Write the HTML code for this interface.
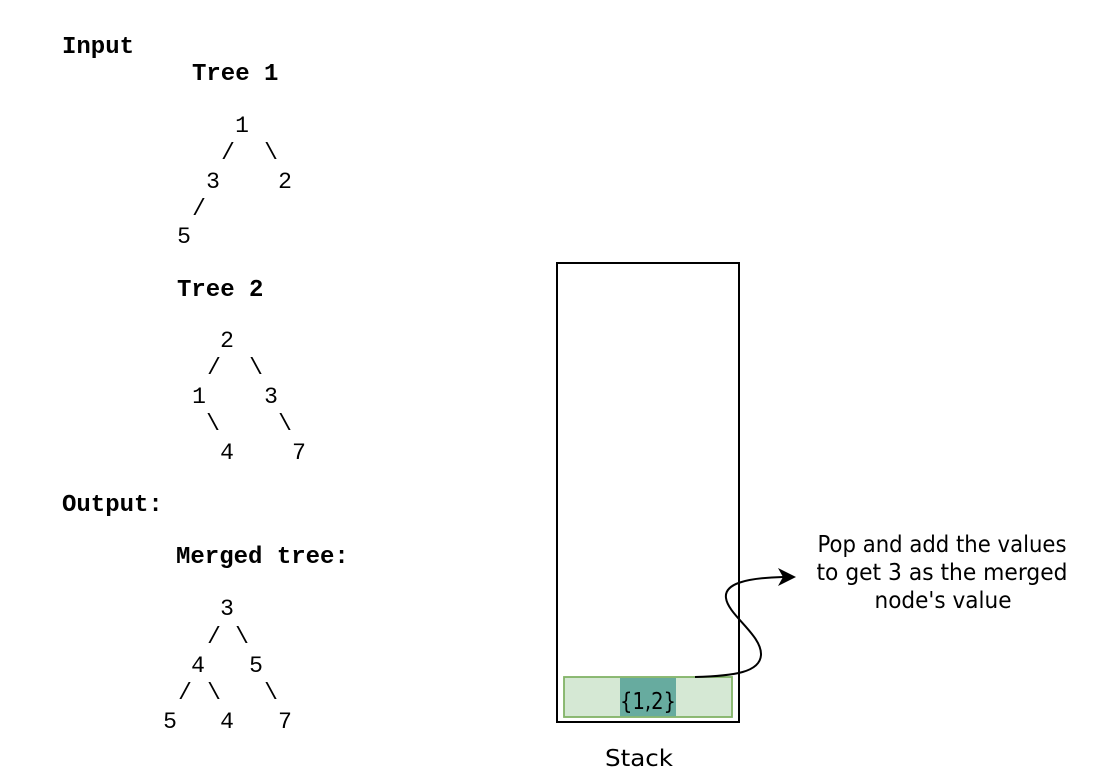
<!DOCTYPE html>
<html>
<head>
<meta charset="utf-8">
<style>
  html, body { margin:0; padding:0; background:#ffffff; }
  body { width:1120px; height:784px; overflow:hidden; }
  svg { display:block; }
  .hd { font-family:"Liberation Mono", monospace; font-weight:bold; font-size:24px; fill:#000; }
  .dg { font-family:"Liberation Mono", monospace; font-size:23px; fill:#000; }
  .cm { font-family:"DejaVu Sans", "Liberation Sans", sans-serif; font-size:23px; fill:#000; }
</style>
</head>
<body>
<svg width="1120" height="784" viewBox="0 0 1120 784" xmlns="http://www.w3.org/2000/svg">
  <!-- Headers -->
  <text class="hd" x="62" y="53">Input</text>
  <text class="hd" x="192" y="80">Tree 1</text>
  <text class="hd" x="177" y="296">Tree 2</text>
  <text class="hd" x="62" y="511">Output:</text>
  <text class="hd" x="176" y="563">Merged tree:</text>

  <!-- Tree 1 -->
  <g class="dg" text-anchor="middle">
    <text x="242" y="132">1</text>
    <text x="228" y="159">/</text>
    <text x="271" y="159">\</text>
    <text x="213" y="188">3</text>
    <text x="285" y="188">2</text>
    <text x="199" y="215">/</text>
    <text x="184" y="243">5</text>
  </g>

  <!-- Tree 2 -->
  <g class="dg" text-anchor="middle">
    <text x="227" y="347">2</text>
    <text x="214" y="374">/</text>
    <text x="256" y="374">\</text>
    <text x="199" y="403">1</text>
    <text x="271" y="403">3</text>
    <text x="213" y="430">\</text>
    <text x="285" y="430">\</text>
    <text x="227" y="459">4</text>
    <text x="299" y="459">7</text>
  </g>

  <!-- Merged tree -->
  <g class="dg" text-anchor="middle">
    <text x="227" y="615">3</text>
    <text x="214" y="643">/</text>
    <text x="242" y="643">\</text>
    <text x="198" y="672">4</text>
    <text x="256" y="672">5</text>
    <text x="185" y="699">/</text>
    <text x="214" y="699">\</text>
    <text x="271" y="699">\</text>
    <text x="170" y="728">5</text>
    <text x="227" y="728">4</text>
    <text x="285" y="728">7</text>
  </g>

  <!-- Stack -->
  <rect x="557" y="263" width="182" height="459" fill="#ffffff" stroke="#000000" stroke-width="2"/>
  <rect x="564" y="677" width="168" height="40" fill="#d5e8d4" stroke="#82b366" stroke-width="1.8"/>
  <rect x="620" y="678" width="56" height="38.2" fill="#67ab9f"/>
  <text class="cm" x="648" y="709" text-anchor="middle" font-size="25" textLength="56" lengthAdjust="spacingAndGlyphs">{1,2}</text>
  <text class="cm" x="639" y="766" text-anchor="middle" font-size="25" textLength="68" lengthAdjust="spacingAndGlyphs">Stack</text>

  <!-- Curved arrow -->
  <path d="M695,677 C735,676 760,672 761,655 C762,635 728,615 726,598 C724,584 745,578 783,577" fill="none" stroke="#000" stroke-width="2"/>
  <polygon points="796,577 778,568 783,577 778,586" fill="#000"/>

  <!-- Annotation -->
  <text class="cm" x="942" y="552" text-anchor="middle" textLength="249" lengthAdjust="spacingAndGlyphs">Pop and add the values</text>
  <text class="cm" x="942" y="580" text-anchor="middle" textLength="251" lengthAdjust="spacingAndGlyphs">to get 3 as the merged</text>
  <text class="cm" x="943" y="608" text-anchor="middle" textLength="137" lengthAdjust="spacingAndGlyphs">node's value</text>
</svg>
</body>
</html>
